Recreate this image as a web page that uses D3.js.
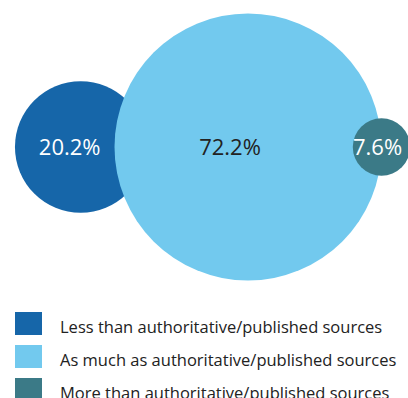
<!DOCTYPE html>
<html>
<head>
<meta charset="utf-8">
<script src="https://cdn.jsdelivr.net/npm/d3@7"></script>
<style>
  html, body { margin: 0; padding: 0; background: #fff; }
  svg { display: block; }
  text { font-family: "Open Sans", "Noto Sans", sans-serif; }
</style>
</head>
<body>
<script>
// Share of responses by comparison with authoritative/published sources
const categories = [
  "Less than authoritative/published sources",
  "As much as authoritative/published sources",
  "More than authoritative/published sources"
];
const shares = [20.2, 72.2, 7.6];
const valueLabels = ["20.2%", "72.2%", "7.6%"];
const colors = ["#1666a9", "#72c9ee", "#3b7a87"];
const labelColors = ["#ffffff", "#222222", "#ffffff"];

const W = 408, H = 398;
const svg = d3.select("body").append("svg")
  .attr("width", W).attr("height", H);

// Bubble radius from share
const rScale = d3.scaleLinear()
  .domain([0, 7.6, 20.2, 72.2])
  .range([0, 28.7, 65.7, 133.5]);

const cy = 147;
const bigCx = 248;
const rBig = rScale(shares[1]);
const centers = [
  bigCx - rBig - rScale(shares[0]) * 0.515,
  bigCx,
  bigCx + rBig
];

const bubbles = shares.map((v, i) => ({
  v, i, cx: centers[i], r: rScale(v),
  color: colors[i], label: valueLabels[i], labelColor: labelColors[i]
}));

const g = svg.append("g");
g.selectAll("circle")
  .data(bubbles)
  .join("circle")
  .attr("cx", d => d.cx)
  .attr("cy", cy)
  .attr("r", d => d.r)
  .attr("fill", d => d.color);

const labelDx = [-11, -18, -4];
g.selectAll("text.val")
  .data(bubbles)
  .join("text")
  .attr("class", "val")
  .attr("x", d => d.cx + labelDx[d.i])
  .attr("y", cy)
  .attr("dy", "0.35em")
  .attr("text-anchor", "middle")
  .attr("font-size", 22)
  .attr("fill", d => d.labelColor)
  .text(d => d.label);

// Legend
const legend = svg.append("g").attr("transform", "translate(15,312)");
const rowY = d3.scalePoint().domain(d3.range(categories.length)).range([0, 66]);
const rows = legend.selectAll("g")
  .data(categories)
  .join("g")
  .attr("transform", (d, i) => `translate(0,${rowY(i)})`);
rows.append("rect")
  .attr("width", 27).attr("height", 23)
  .attr("fill", (d, i) => colors[i]);
rows.append("text")
  .attr("x", 45)
  .attr("y", 21)
  .attr("font-size", 16.5)
  .attr("fill", "#222")
  .text(d => d);
</script>
</body>
</html>
